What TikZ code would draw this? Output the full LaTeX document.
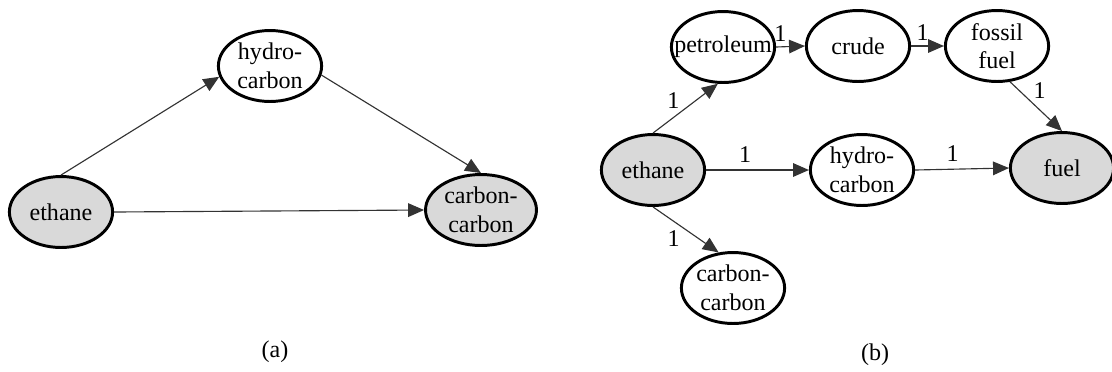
\documentclass[tikz,border=0pt]{standalone}
\usepackage{fontspec}
\setmainfont{Liberation Serif}
\usetikzlibrary{shapes.geometric,arrows.meta}
\definecolor{termgray}{RGB}{217,217,217}
\tikzset{
  term/.style={ellipse, draw, line width=1.3pt, inner xsep=-7pt, inner ysep=-1pt,
    minimum width=1.6cm, minimum height=1.1cm, align=center,
    font=\fontsize{10.6}{12.6}\selectfont},
  seed/.style={term, fill=termgray},
  link/.style={line width=0.5pt, draw=black!80, -{Triangle[length=7pt,width=6pt]}},
  wt/.style={font=\fontsize{10.6}{12.6}\selectfont, inner sep=1pt}
}
\begin{document}
\begin{tikzpicture}[x=0.0155cm, y=-0.0155cm]
  \useasboundingbox (0,0) rectangle (1112,371);
  % (a)
  \node[seed] (eth) at (61,212) {ethane};
  \node[term] (hyd) at (270,66) {hydro-\\carbon};
  \node[seed, minimum width=1.72cm] (cc) at (481,210) {carbon-\\carbon};
  \draw[link] (eth.north) -- (hyd.192);
  \draw[link] (hyd.350) -- (cc.north);
  \draw[link] (eth.east) -- (cc.west);
  \node[wt] (capa) at (275,352) {(a)};
  % (b)
  \node[seed] (ethb) at (653,170) {ethane};
  \node[term] (pet) at (723,47) {petroleum};
  \node[term] (crude) at (858,46) {crude};
  \node[term] (fossil) at (997,46) {fossil\\fuel};
  \node[term] (hydb) at (862,170) {hydro-\\carbon};
  \node[seed] (fuel) at (1062,168) {fuel};
  \node[term] (ccb) at (733,288) {carbon-\\carbon};
  \draw[link] (ethb.north) -- node[wt, pos=0.45, above left] {1} (pet.262);
  \draw[link] (pet.east) -- node[wt, pos=0.15, above=1pt] {1} (crude.west);
  \draw[link] (crude.east) -- node[wt, pos=0.35, above=1pt] {1} (fossil.west);
  \draw[link] (fossil.290) -- node[wt, pos=0.4, above right] {1} (fuel.north);
  \draw[link] (ethb.east) -- node[wt, pos=0.38, above=2pt] {1} (hydb.west);
  \draw[link] (hydb.east) -- node[wt, pos=0.4, above=2pt] {1} (fuel.west);
  \draw[link] (ethb.south) -- node[wt, pos=0.45, below left] {1} (ccb.112);
  \node[wt] (capb) at (875,355) {(b)};
\end{tikzpicture}
\end{document}
